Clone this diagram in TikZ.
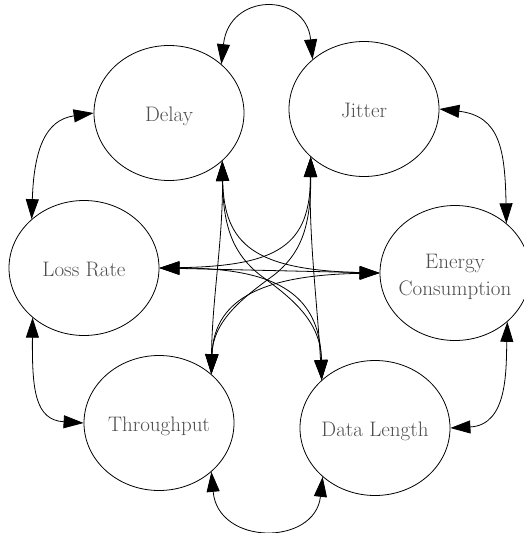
\documentclass[tikz,border=0pt]{standalone}
\usetikzlibrary{arrows.meta,shapes.geometric}
\definecolor{txtgray}{HTML}{4D4D4D}
\newcommand{\vlabel}[1]{\makebox[0pt]{\raisebox{-8pt}[0pt][0pt]{#1}}}
\begin{document}
\begin{tikzpicture}[x=1pt,y=-1pt, line width=0.8pt,
  var/.style={ellipse, draw, minimum width=150pt, minimum height=135pt, inner sep=0pt,
    font=\fontsize{21}{27}\selectfont, text=txtgray},
  link/.style={{Triangle[length=20pt,width=13pt]}-{Triangle[length=20pt,width=13pt]}}]
\useasboundingbox (0,0) rectangle (524,533);
\node[var] (delay) at (169,113) {\vlabel{Delay}};
\node[var] (jitter) at (364,109) {\vlabel{Jitter}};
\node[var] (loss) at (84,268) {\vlabel{Loss Rate}};
\node[var] (energy) at (455,273) {\makebox[0pt]{\raisebox{5pt}[0pt][0pt]{\begin{tabular}[t]{@{}c@{}}Energy\\Consumption\end{tabular}}}};
\node[var] (throughput) at (159,423) {\vlabel{Throughput}};
\node[var] (data) at (375,428) {\vlabel{Data Length}};
% outer ring
\draw[link] (delay.43) .. controls (229,-8) and (306,-8) .. (jitter.136);
\draw[link] (jitter.east) .. controls (500,116) and (505,150) .. (energy.44);
\draw[link] (energy.-43) .. controls (506,370) and (508,425) .. (data.east);
\draw[link] (throughput.-43) .. controls (218,546) and (315,546) .. (data.-137);
\draw[link] (loss.-136) .. controls (32,390) and (35,420) .. (throughput.west);
\draw[link] (delay.west) .. controls (45,120) and (34,150) .. (loss.137);
% centre
\draw[link] (delay.-42) .. controls (223,240) and (212,300) .. (throughput.43);
\draw[link] (jitter.-138) .. controls (309,240) and (317,300) .. (data.138);
\draw[link] (loss.east) -- (energy.west);
\draw[link] (delay.-42) .. controls (224,245) and (255,270) .. (energy.west);
\draw[link] (delay.-42) .. controls (223,230) and (235,255) .. (260,275)
  .. controls (290,297) and (321,320) .. (data.138);
\draw[link] (jitter.-138) .. controls (310,245) and (279,266) .. (loss.east);
\draw[link] (jitter.-138) .. controls (311,230) and (299,255) .. (274,275)
  .. controls (244,297) and (213,320) .. (throughput.43);
\draw[link] (loss.east) .. controls (270,268) and (320,290) .. (data.138);
\draw[link] (energy.west) .. controls (270,275) and (214,295) .. (throughput.43);
\end{tikzpicture}
\end{document}
